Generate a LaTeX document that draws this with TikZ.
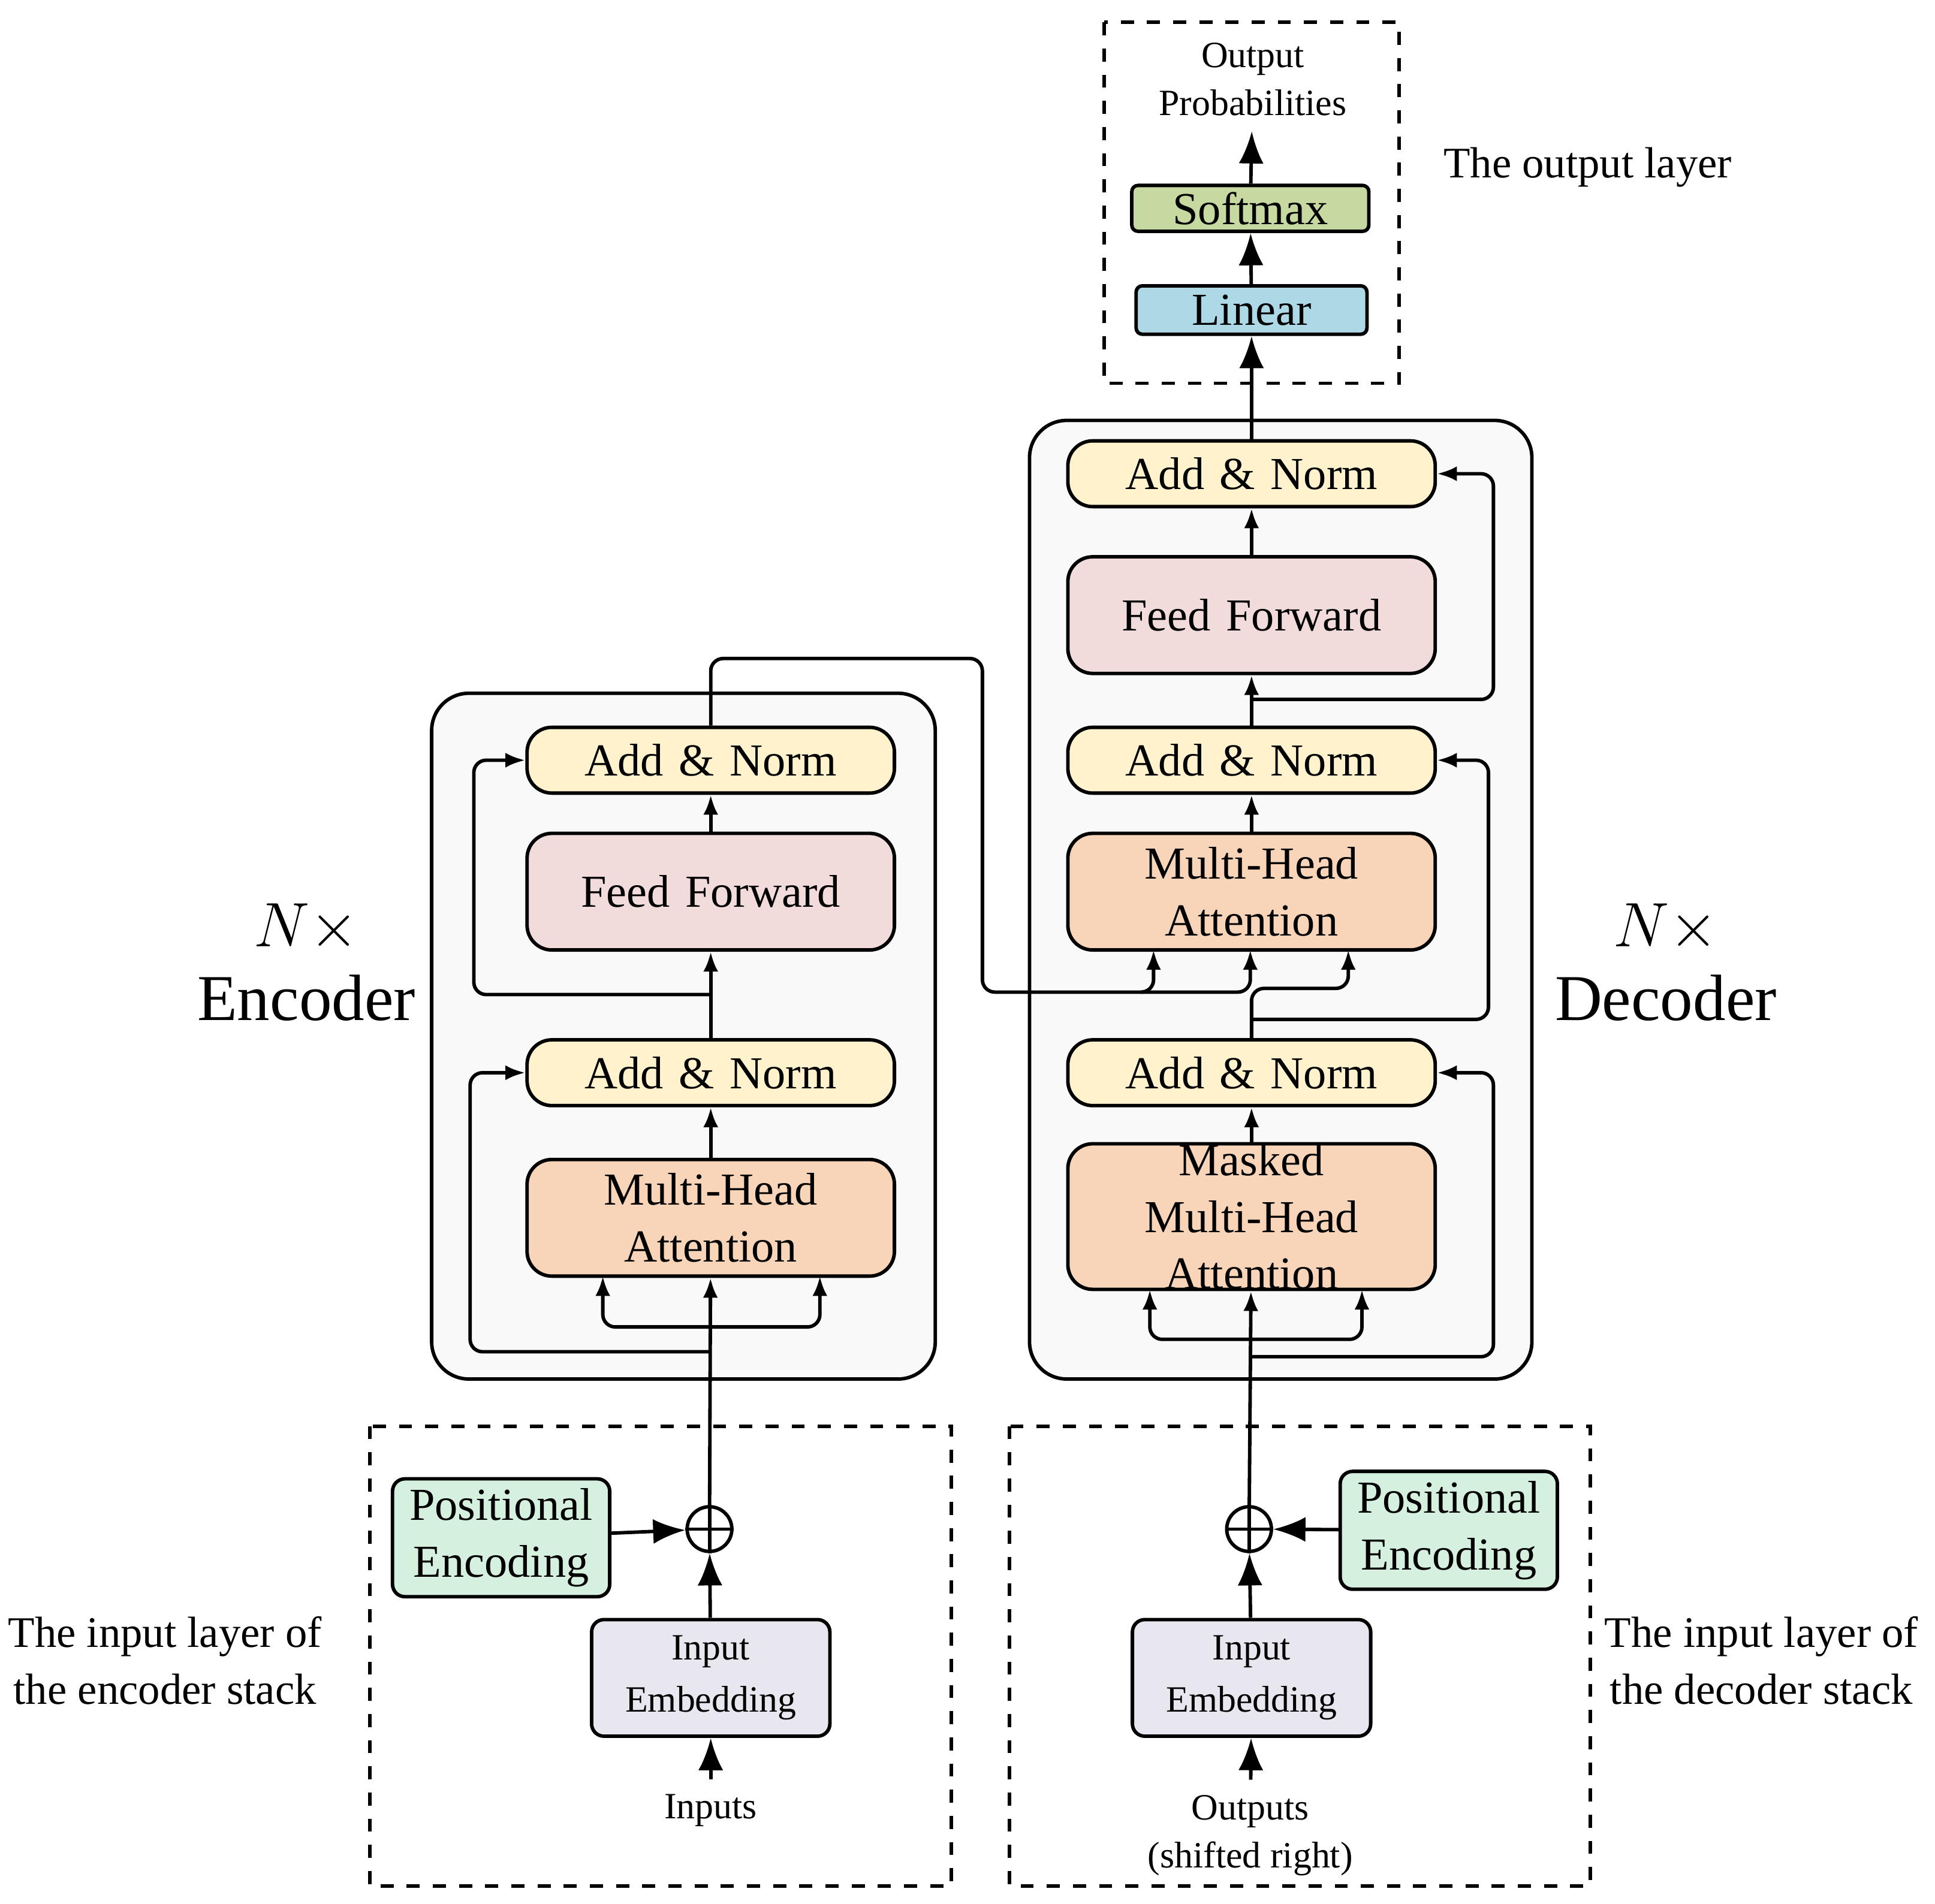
\documentclass[tikz,border=0pt]{standalone}
\usepackage{fontspec}
\setmainfont{Liberation Serif}
\usetikzlibrary{arrows.meta,positioning}
\definecolor{addcol}{HTML}{FFF2CC}
\definecolor{ffcol}{HTML}{F2DCDB}
\definecolor{attcol}{HTML}{F8D5B9}
\definecolor{pecol}{HTML}{D5F0DF}
\definecolor{embcol}{HTML}{E8E6EF}
\definecolor{smcol}{HTML}{C5D9A0}
\definecolor{lincol}{HTML}{ADD8E6}
\begin{document}
\begin{tikzpicture}
  [
    x=0.01cm, y=-0.01cm,
    Block/.style={draw=black, rounded corners=2mm, thick, align=center, inner sep=0pt,
      font=\fontsize{10.5}{13}\selectfont, text width=2.9cm},
    AddNorm/.style={Block, fill=addcol, minimum width=2.96cm, minimum height=0.53cm},
    FF/.style={Block, fill=ffcol, minimum width=2.96cm, minimum height=0.94cm},
    Att/.style={Block, fill=attcol, minimum width=2.96cm, minimum height=0.94cm},
    PE/.style={Block, fill=pecol, minimum width=1.75cm, minimum height=0.95cm, text width=1.7cm, rounded corners=1mm},
    Emb/.style={Block, fill=embcol, minimum width=1.92cm, minimum height=0.94cm, text width=1.9cm,
      rounded corners=1mm, font=\fontsize{8.5}{12}\selectfont},
    Stack/.style={draw=black, thick, rounded corners=3mm, fill=gray!5},
    Dashed/.style={draw=black, thick, dashed},
    Plus/.style={circle, draw=black, thick, minimum size=0.36cm, inner sep=0pt},
    Side/.style={align=center, font=\fontsize{10}{13}\selectfont},
    Small/.style={align=center, font=\fontsize{8.5}{11}\selectfont},
    Big/.style={align=center, font=\fontsize{15}{17}\selectfont},
    arr/.style={-{Latex[length=1.6mm,width=1.2mm]}, thick},
    arrbig/.style={-{Latex[length=2.6mm,width=2mm]}, thick},
    line/.style={thick, rounded corners=1mm}
  ]
  \useasboundingbox (0,0) rectangle (1560,1535);

  % Frames
  \draw[Dashed] (890,18) rectangle (1128,309);
  \draw[Dashed] (298,1150) rectangle (767,1521);
  \draw[Dashed] (814,1150) rectangle (1282,1521);
  \draw[Stack] (348,559) rectangle (754,1112);
  \draw[Stack] (830,339) rectangle (1235,1112);

  % Output layer
  \node[Small] (prob) at (1010,64) {Output\\Probabilities};
  \node[Block, fill=smcol, minimum width=1.91cm, minimum height=0.37cm, text width=1.9cm, rounded corners=0.5mm] (soft) at (1008,168) {Softmax};
  \node[Block, fill=lincol, minimum width=1.86cm, minimum height=0.39cm, text width=1.8cm, rounded corners=0.5mm] (lin) at (1009,250) {Linear};
  \node[Side] (outlbl) at (1280,135) {The output layer};

  % Encoder
  \node[AddNorm] (eadd2) at (573,613) {Add \& Norm};
  \node[FF] (eff) at (573,719) {Feed Forward};
  \node[AddNorm] (eadd1) at (573,865) {Add \& Norm};
  \node[Att] (emha) at (573,982) {Multi-Head\\Attention};
  \node[Big] (enclbl) at (247,776) {$N\times$\\Encoder};

  % Decoder
  \node[AddNorm] (dadd3) at (1009,382) {Add \& Norm};
  \node[FF] (dff) at (1009,496) {Feed Forward};
  \node[AddNorm] (dadd2) at (1009,613) {Add \& Norm};
  \node[Att] (dmha) at (1009,719) {Multi-Head\\Attention};
  \node[AddNorm] (dadd1) at (1009,865) {Add \& Norm};
  \node[Att, minimum height=1.17cm] (dmask) at (1009,981) {Masked\\Multi-Head\\Attention};
  \node[Big] (declbl) at (1343,776) {$N\times$\\Decoder};

  % Input layers
  \node[PE] (epe) at (404,1240) {Positional\\Encoding};
  \node[Plus] (eplus) at (572,1233) {};
  \draw[thick] (eplus.north) -- (eplus.south) (eplus.west) -- (eplus.east);
  \node[Emb] (eemb) at (573,1353) {Input\\Embedding};
  \node[Small] (inp) at (573,1460) {Inputs};
  \node[Side] (einlbl) at (133,1339) {The input layer of\\the encoder stack};

  \node[PE] (dpe) at (1168,1234) {Positional\\Encoding};
  \node[Plus] (dplus) at (1007,1233) {};
  \draw[thick] (dplus.north) -- (dplus.south) (dplus.west) -- (dplus.east);
  \node[Emb] (demb) at (1009,1353) {Input\\Embedding};
  \node[Small] (outp) at (1008,1480) {Outputs\\(shifted right)};
  \node[Side] (dinlbl) at (1420,1339) {The input layer of\\the decoder stack};

  % Encoder connectors
  \draw[arrbig] (inp) -- (eemb);
  \draw[arrbig] (eemb) -- (eplus);
  \draw[arrbig] (epe) -- (eplus);
  \draw[arr] (eplus) -- (emha);
  \draw[arr, rounded corners=1mm] (572,1070) -| (486,1029);
  \draw[arr, rounded corners=1mm] (572,1070) -| (661,1029);
  \draw[arr, rounded corners=1mm] (572,1090) -| (379,865) -- (eadd1.west);
  \draw[arr] (emha) -- (eadd1);
  \draw[arr] (eadd1) -- (eff);
  \draw[arr, rounded corners=1mm] (572,802) -| (382,613) -- (eadd2.west);
  \draw[arr] (eff) -- (eadd2);
  \coordinate (cross) at (1008,800);
  \draw[arr, rounded corners=1mm] (eadd2.north) |- (792,531) |- (cross) -- (1008,766);
  \draw[arr, rounded corners=1mm] (920,800) -| (930,766);

  % Decoder connectors
  \draw[arrbig] (outp) -- (demb);
  \draw[arrbig] (demb) -- (dplus);
  \draw[arrbig] (dpe) -- (dplus);
  \draw[arr] (dplus) -- (dmask);
  \draw[arr, rounded corners=1mm] (1008,1080) -| (927,1040);
  \draw[arr, rounded corners=1mm] (1008,1080) -| (1098,1040);
  \draw[arr, rounded corners=1mm] (1008,1094) -| (1204,865) -- (dadd1.east);
  \draw[arr] (dmask) -- (dadd1);
  \draw[arr, rounded corners=1mm] (dadd1.north) |- (1087,797) -- (1087,766);
  \draw[arr, rounded corners=1mm] (1008,822) -| (1200,613) -- (dadd2.east);
  \draw[arr] (dmha) -- (dadd2);
  \draw[arr] (dadd2) -- (dff);
  \draw[arr, rounded corners=1mm] (1008,564) -| (1204,382) -- (dadd3.east);
  \draw[arr] (dff) -- (dadd3);
  \draw[arrbig] (dadd3) -- (lin);
  \draw[arrbig] (lin) -- (soft);
  \draw[arrbig] (soft) -- (prob);
\end{tikzpicture}
\end{document}
